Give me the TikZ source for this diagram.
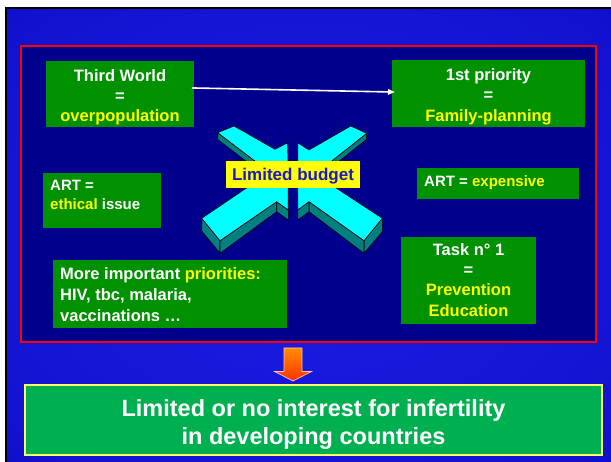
\documentclass[tikz,border=0pt]{standalone}
\usepackage{fontspec}
\setmainfont{Liberation Sans}
\usetikzlibrary{arrows.meta}

\definecolor{slidehi}{RGB}{30,30,230}
\definecolor{slidelo}{RGB}{6,6,186}
\definecolor{panelnavy}{RGB}{0,0,140}
\definecolor{boxgreen}{RGB}{0,145,0}
\definecolor{resgreen}{RGB}{0,176,80}
\definecolor{hiyel}{RGB}{255,255,0}
\definecolor{paleyel}{RGB}{255,255,102}
\definecolor{armcyan}{RGB}{0,255,255}
\definecolor{armteal}{RGB}{0,128,128}
\definecolor{labelblue}{RGB}{26,26,200}
\definecolor{arrtop}{RGB}{255,140,0}
\definecolor{arrbot}{RGB}{255,50,0}
\definecolor{arrrim}{RGB}{255,200,170}

\pgfdeclareradialshading{slideglow}{\pgfpoint{0bp}{0bp}}{color(0bp)=(slidehi); color(30bp)=(slidehi!55!slidelo); color(50bp)=(slidelo)}

\begin{document}
\begin{tikzpicture}[x=1pt,y=-1pt,
  gbox/.style={fill=boxgreen, inner sep=0pt, outer sep=0pt},
  boxtxt/.style={inner sep=0pt, text=white, font=\bfseries\fontsize{16.5}{20.3}\selectfont},
  smalltxt/.style={inner sep=0pt, text=white, font=\bfseries\fontsize{15}{19}\selectfont},
  frontface/.style={fill=armcyan, draw=black, line width=0.6pt, line join=round},
  sideface/.style={fill=armteal, draw=black, line width=0.6pt, line join=round},
  linkarrow/.style={white, line width=1.6pt, -{Triangle[length=7pt,width=5.5pt]}}]

\useasboundingbox (0,0) rectangle (611,462);

% slide background with its dark frame on the top and left
\fill[white] (0,0) rectangle (611,462);
\shade[shading=slideglow] (7,9) rectangle (611,462);
\draw[black, line width=2.3pt] (6.2,462) -- (6.2,7.9) -- (611,7.9);

% red-framed panel
\filldraw[fill=panelnavy, draw=red, line width=2pt] (21,46) rectangle (596.3,342);

% ---- green statement boxes ----
\node[gbox, minimum width=148pt, minimum height=66pt] (tw) at (120,94) {};
\node[boxtxt, align=center, anchor=north] (twtext) at (120,69)
  {Third World\\=\\\textcolor{hiyel}{overpopulation}};

\node[gbox, minimum width=193pt, minimum height=67pt] (fp) at (488.5,93.5) {};
\node[boxtxt, align=center, anchor=north] (fptext) at (488.5,68.5)
  {1st priority\\=\\\textcolor{hiyel}{Family-planning}};

\node[gbox, minimum width=118pt, minimum height=55pt] (eth) at (102,200.5) {};
\node[smalltxt, align=left, anchor=north west] (ethtext) at (50,179.6)
  {ART =\\\textcolor{hiyel}{ethical} issue};

\node[gbox, minimum width=234pt, minimum height=68pt] (prio) at (170,294) {};
\node[boxtxt, font=\bfseries\fontsize{16.5}{21}\selectfont, align=left, anchor=north west] (priotext) at (60,267.4)
  {More important \textcolor{hiyel}{priorities:}\\HIV, tbc, malaria,\\vaccinations …};

\node[gbox, minimum width=162pt, minimum height=31pt] (exp) at (498,183.5) {};
\node[smalltxt, anchor=north west] (exptext) at (424,175.2)
  {ART = \textcolor{hiyel}{expensive}};

\node[gbox, minimum width=135pt, minimum height=87pt] (task) at (468.5,280.5) {};
\node[boxtxt, align=center, anchor=north] (tasktext) at (468.5,243)
  {Task n° 1\\=\\\textcolor{hiyel}{Prevention}\\\textcolor{hiyel}{Education}};

\draw[linkarrow, shorten <=-2pt, shorten >=-3pt] ([yshift=6pt]tw.east) -- ([yshift=1.5pt]fp.west);

% ---- two 3D chevrons closing in on the budget ----
% left chevron: visible side faces
\filldraw[sideface] (217.7,132.7) -- (269.7,172.3) -- (269.7,179.3) -- (217.7,139.5) -- cycle;
\filldraw[sideface] (201.7,218.3) -- (220,240.7) -- (220,253.3) -- (201.7,231) -- cycle;
\filldraw[sideface] (220,240.7) -- (276.7,201.7) -- (276.7,211.7) -- (220,253.3) -- cycle;
\filldraw[sideface] (276.7,201.7) -- (288.3,210) -- (288.3,220) -- (276.7,211.7) -- cycle;
% left chevron: front face
\filldraw[frontface] (217.7,132.7) -- (234,126) -- (275,149.3) -- (287.7,142.7)
  -- (288.3,210) -- (276.7,201.7) -- (220,240.7) -- (201.7,218.3) -- (269.7,172.3) -- cycle;

% right chevron: visible side faces
\filldraw[sideface] (366.7,133.3) -- (315.1,174.2) -- (315.1,180.2) -- (366.7,139.3) -- cycle;
\filldraw[sideface] (382.3,218.3) -- (364,240.7) -- (364,253.3) -- (382.3,231.7) -- cycle;
\filldraw[sideface] (364,240.7) -- (309,201.7) -- (309,211.7) -- (364,253.3) -- cycle;
\filldraw[sideface] (309,201.7) -- (297.7,210) -- (297.7,220) -- (309,211.7) -- cycle;
% right chevron: front face
\filldraw[frontface] (297.7,142.7) -- (309,150) -- (350.7,126) -- (366.7,133.3)
  -- (315.1,174.2) -- (382.3,218.3) -- (364,240.7) -- (309,201.7) -- (297.7,210) -- cycle;

\node[fill=hiyel, minimum width=134pt, minimum height=27pt, inner sep=0pt,
  text=labelblue, font=\bfseries\fontsize{17}{20}\selectfont,
  text height=12.2pt, text depth=0pt] (budget) at (293,174.5) {Limited budget};

% ---- conclusion ----
\shadedraw[top color=arrtop, bottom color=arrbot, draw=arrrim, line width=0.7pt, line join=miter]
  (284,348) -- (302,348) -- (302,371.5) -- (311.5,371.5) -- (293,381)
  -- (274.5,371.5) -- (284,371.5) -- cycle;

\node[fill=resgreen, draw=paleyel, line width=2pt, minimum width=577pt,
  minimum height=70pt, inner sep=0pt] (result) at (313.5,420) {};
\node[inner sep=0pt, text=white, font=\bfseries\fontsize{23.5}{28}\selectfont,
  align=center, anchor=north] (resulttext) at (313.5,399.5)
  {Limited or no interest for infertility\\in developing countries};

\end{tikzpicture}
\end{document}
